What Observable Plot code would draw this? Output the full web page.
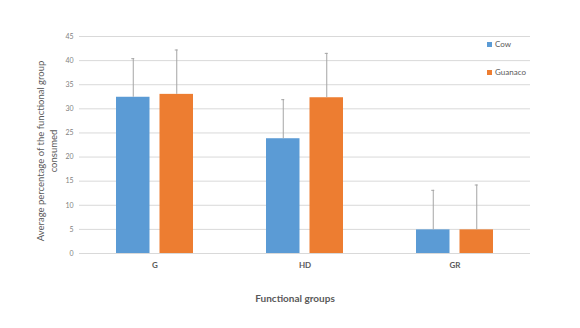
<!DOCTYPE html>
<html><head><meta charset="utf-8">
<script src="https://cdn.jsdelivr.net/npm/d3@7"></script>
<script src="https://cdn.jsdelivr.net/npm/@observablehq/plot@0.6"></script>
<style>
body{margin:0;background:#fff;font-family:Lato,"Open Sans",sans-serif}
#wrap{position:relative;width:580px;height:328px}
.leg{position:absolute;left:487px;font-size:8px;color:#595959;display:flex;align-items:center;line-height:10px}
.leg i{display:inline-block;width:5px;height:5px;margin-right:3px}
</style></head><body><div id="wrap"></div>
<script>
const groups = ["G", "HD", "GR"];
const seriesNames = ["Cow", "Guanaco"];
const seriesColors = ["#5B9BD5", "#ED7D31"];
const cowMean = [32.4, 23.8, 4.9];
const cowSD = [8.0, 8.1, 8.2];
const guanacoMean = [33.0, 32.3, 4.9];
const guanacoSD = [9.2, 9.2, 9.3];
const yTicks = [0, 5, 10, 15, 20, 25, 30, 35, 40, 45];
const xTitle = "Functional groups";
const yTitle = "Average percentage of the functional group\nconsumed";

const cow = groups.map((g, i) => ({group: g, mean: cowMean[i], top: cowMean[i] + cowSD[i]}));
const guanaco = groups.map((g, i) => ({group: g, mean: guanacoMean[i], top: guanacoMean[i] + guanacoSD[i]}));

const off = 21.75;
const barInset = 43.5;
const capInset = 37;
const errColor = "#a5a5a5";

const chart = Plot.plot({
  width: 580, height: 328,
  marginLeft: 79, marginRight: 50, marginTop: 36, marginBottom: 75,
  style: {fontFamily: "Lato, 'Open Sans', sans-serif", color: "#595959", background: "#fff"},
  x: {domain: groups, paddingInner: 0.488, paddingOuter: 0.244, align: 0.5},
  y: {domain: [0, 45]},
  marks: [
    Plot.gridY(yTicks, {stroke: "#d9d9d9", strokeOpacity: 1}),
    Plot.axisY(yTicks, {tickSize: 0, tickPadding: 6, fontSize: 7, fill: "#7f7f7f", label: null}),
    Plot.axisX({tickSize: 0, tickPadding: 9, fontSize: 8, fontWeight: "bold", fill: "#595959", label: null}),
    Plot.barY(cow, {x: "group", y: "mean", fill: seriesColors[0], insetRight: barInset}),
    Plot.barY(guanaco, {x: "group", y: "mean", fill: seriesColors[1], insetLeft: barInset}),
    Plot.ruleX(cow, {x: "group", y1: "mean", y2: "top", dx: -off, stroke: errColor, strokeWidth: 1}),
    Plot.ruleX(guanaco, {x: "group", y1: "mean", y2: "top", dx: off, stroke: errColor, strokeWidth: 1}),
    Plot.tickY(cow, {x: "group", y: "top", dx: -off, insetLeft: capInset, insetRight: capInset, stroke: errColor}),
    Plot.tickY(guanaco, {x: "group", y: "top", dx: off, insetLeft: capInset, insetRight: capInset, stroke: errColor}),
    Plot.text([yTitle], {frameAnchor: "left", textAnchor: "middle", rotate: -90, dx: -33, dy: 6, fontSize: 9.5, fill: "#595959", lineHeight: 1.35}),
    Plot.text([xTitle], {frameAnchor: "bottom", dy: 48, dx: -10, fontSize: 10, fontWeight: "bold", fill: "#595959"})
  ]
});
const wrap = document.getElementById("wrap");
wrap.appendChild(chart);
const legTops = [39, 67];
seriesNames.forEach((n, i) => {
  const d = document.createElement("div");
  d.className = "leg";
  d.style.top = legTops[i] + "px";
  d.innerHTML = `<i style="background:${seriesColors[i]}"></i>${n}`;
  wrap.appendChild(d);
});
</script></body></html>
